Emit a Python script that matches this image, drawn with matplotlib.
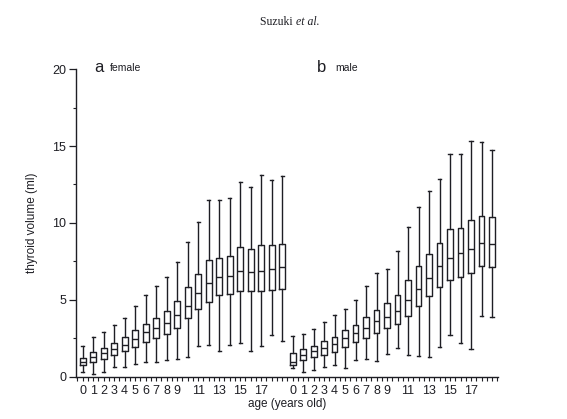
import numpy as np
import matplotlib.pyplot as plt
from matplotlib.ticker import MultipleLocator, FixedLocator

# 年龄 0..19，每组20个箱子：female 在 0..19，male 紧跟在 20..39
ages = list(range(20))
age_labels = ['0', '1', '2', '3', '4', '5', '6', '7', '8', '9',
              '', '11', '', '13', '', '15', '', '17', '', '']

# 女性 (ml)
female_whislo = [0.30, 0.17, 0.30, 0.61, 0.61, 0.80, 0.98, 0.98, 1.09, 1.15,
                 1.30, 2.02, 2.04, 1.69, 2.04, 2.17, 1.67, 2.00, 2.71, 2.32]
female_q1 = [0.74, 0.98, 1.15, 1.39, 1.69, 1.95, 2.28, 2.50, 2.78, 3.15,
             3.82, 4.41, 4.88, 5.32, 5.40, 5.60, 5.60, 5.60, 5.64, 5.73]
female_med = [0.98, 1.30, 1.52, 1.80, 2.06, 2.43, 2.89, 3.15, 3.47, 4.01,
              4.62, 5.47, 6.06, 6.49, 6.56, 6.90, 6.79, 6.88, 6.99, 7.16]
female_q3 = [1.24, 1.61, 1.89, 2.17, 2.56, 3.04, 3.43, 3.82, 4.25, 4.93,
             5.83, 6.66, 7.60, 7.75, 7.88, 8.46, 8.33, 8.57, 8.55, 8.66]
female_whishi = [1.97, 2.56, 2.89, 3.36, 3.80, 4.60, 5.32, 5.90, 6.45, 7.49,
                 8.75, 10.09, 11.52, 11.48, 11.59, 12.65, 12.35, 13.11, 12.76, 13.04]

# 男性 (ml)
male_whislo = [0.58, 0.33, 0.43, 0.65, 0.76, 0.56, 1.09, 1.15, 1.04, 1.48,
               1.89, 1.41, 1.37, 1.26, 1.95, 2.72, 2.17, 1.80, 3.95, 3.87]
male_q1 = [0.76, 1.09, 1.30, 1.41, 1.63, 1.95, 2.28, 2.50, 2.82, 3.15,
           3.42, 3.97, 4.60, 5.23, 5.84, 6.30, 6.48, 6.75, 7.20, 7.12]
male_med = [0.98, 1.41, 1.67, 1.84, 2.10, 2.50, 2.82, 3.15, 3.65, 3.86,
            4.29, 4.98, 5.72, 6.42, 7.18, 7.73, 8.07, 8.32, 8.70, 8.60]
male_q3 = [1.52, 1.78, 2.02, 2.34, 2.60, 3.04, 3.36, 3.91, 4.34, 4.82,
           5.34, 6.29, 7.18, 7.96, 8.68, 9.62, 9.68, 10.18, 10.47, 10.37]
male_whishi = [2.65, 2.76, 3.13, 3.58, 4.01, 4.43, 4.99, 5.90, 6.73, 6.99,
               8.19, 9.75, 11.02, 12.05, 12.85, 14.48, 14.50, 15.35, 15.26, 14.76]

INK = '#1e1e24'


def make_stats(whislo, q1, med, q3, whishi):
    return [dict(whislo=a, q1=b, med=c, q3=d, whishi=e, fliers=[])
            for a, b, c, d, e in zip(whislo, q1, med, q3, whishi)]


plt.rcParams['font.family'] = ['Liberation Sans', 'DejaVu Sans']

fig = plt.figure(figsize=(5.67, 4.19), dpi=100)
ax = fig.add_axes([0.134, 0.101, 0.744, 0.734])

line_kw = dict(color=INK, linewidth=1.0)
stats = (make_stats(female_whislo, female_q1, female_med, female_q3, female_whishi)
         + make_stats(male_whislo, male_q1, male_med, male_q3, male_whishi))
positions = ages + [a + len(ages) for a in ages]
ax.bxp(stats, positions=positions, widths=0.55, capwidths=0.3,
       showfliers=False, manage_ticks=False,
       boxprops=line_kw, whiskerprops=line_kw, capprops=line_kw,
       medianprops=line_kw)

# 坐标轴
ax.set_xlim(-0.64, 39.55)
ax.set_ylim(0, 20)
for side in ['top', 'right']:
    ax.spines[side].set_visible(False)
for side in ['left', 'bottom']:
    ax.spines[side].set_color(INK)
    ax.spines[side].set_linewidth(1.0)

ax.yaxis.set_major_locator(MultipleLocator(5))
ax.yaxis.set_minor_locator(MultipleLocator(2.5))
ax.tick_params(axis='y', which='major', length=5, width=0.9, color=INK,
               labelsize=9, labelcolor=INK, pad=2)
ax.tick_params(axis='y', which='minor', length=2.5, width=0.8, color=INK)

ax.xaxis.set_major_locator(FixedLocator(positions))
ax.set_xticklabels(age_labels + age_labels)
ax.xaxis.set_minor_locator(MultipleLocator(0.5))
ax.tick_params(axis='x', which='major', length=3, width=0.8, color=INK,
               labelsize=9, labelcolor=INK, pad=3)
ax.tick_params(axis='x', which='minor', length=3, width=0.8, color=INK)

ax.set_ylabel('thyroid volume (ml)', fontsize=8.5, color=INK, labelpad=10)
ax.set_xlabel('age (years old)', fontsize=8.5, color=INK, labelpad=1)

# 面板标签
ax.text(1.1, 20.1, 'a', fontsize=12, color=INK, va='center', ha='left')
ax.text(2.6, 20.1, 'female', fontsize=7.5, color=INK, va='center', ha='left')
ax.text(22.3, 20.1, 'b', fontsize=12, color=INK, va='center', ha='left')
ax.text(24.1, 20.1, 'male', fontsize=7.5, color=INK, va='center', ha='left')

# 标题：Suzuki et al.
t1 = fig.text(0.459, 0.947, 'Suzuki ', family='Liberation Serif',
              fontsize=8.5, color=INK, va='center', ha='left')
fig.canvas.draw()
bb = t1.get_window_extent()
fig.text(bb.x1 / fig.bbox.width, 0.947, 'et al.', family='Liberation Serif',
         style='italic', fontsize=8.5, color=INK, va='center', ha='left')

fig.savefig('out.png', dpi=100)
